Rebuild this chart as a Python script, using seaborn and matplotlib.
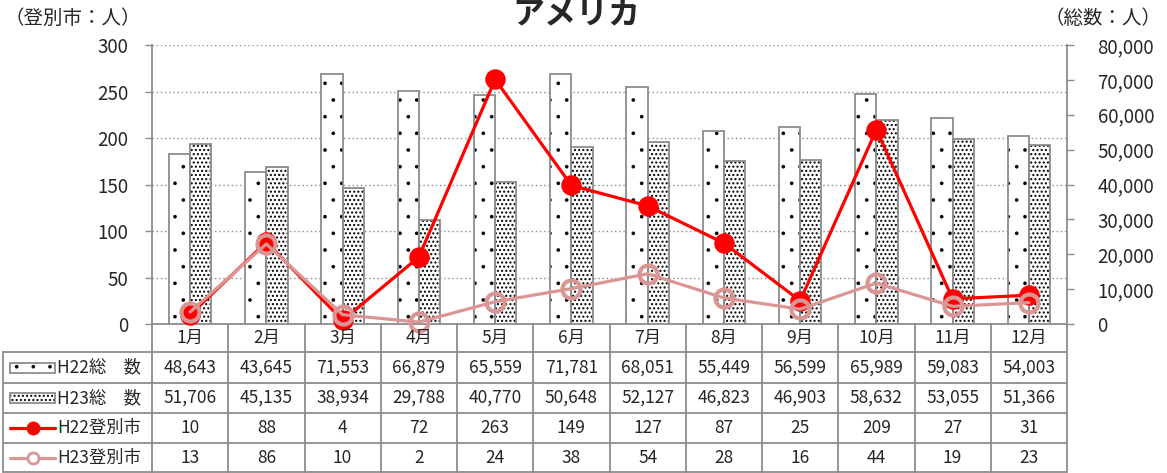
import numpy as np
import matplotlib.pyplot as plt
import seaborn as sns
import pandas as pd
from matplotlib.patches import Rectangle
from matplotlib.lines import Line2D
from matplotlib.ticker import FuncFormatter

# data
months = ['1月', '2月', '3月', '4月', '5月', '6月', '7月', '8月', '9月', '10月', '11月', '12月']
h22_total = [48643, 43645, 71553, 66879, 65559, 71781, 68051, 55449, 56599, 65989, 59083, 54003]
h23_total = [51706, 45135, 38934, 29788, 40770, 50648, 52127, 46823, 46903, 58632, 53055, 51366]
h22_city = [10, 88, 4, 72, 263, 149, 127, 87, 25, 209, 27, 31]
h23_city = [13, 86, 10, 2, 24, 38, 54, 28, 16, 44, 19, 23]
row_labels = ['H22総\u3000数', 'H23総\u3000数', 'H22登別市', 'H23登別市']

sns.set_style('white')
plt.rcParams['font.family'] = ['Noto Sans CJK JP', 'DejaVu Sans']
plt.rcParams['hatch.linewidth'] = 0.8

GRAY = '#8c8c8c'
RED = '#ff0000'
PINK = '#da9694'
HATCH_LW = {'.': 0.2, '....': 1.0}


def style_hatch(p, hatch):
    p.set_hatch(hatch)
    p.set_edgecolor('black')
    p.set_linewidth(0)
    if hasattr(p, 'set_hatch_linewidth'):
        p.set_hatch_linewidth(HATCH_LW[hatch])


W, H = 1167, 473
fig = plt.figure(figsize=(W / 100, H / 100), dpi=100)

# plot area in pixels
x0, x1 = 152, 1067
y_top, y_bot = 45, 324
ax = fig.add_axes([x0 / W, (H - y_bot) / H, (x1 - x0) / W, (y_bot - y_top) / H])

df = pd.DataFrame({
    'month': months * 2,
    'total': h22_total + h23_total,
    'year': ['H22'] * 12 + ['H23'] * 12,
})

# bars (right axis)
ax_bar = ax.twinx()
sns.barplot(data=df, x='month', y='total', hue='year', ax=ax_bar, width=0.56, gap=0,
            palette=['white', 'white'], legend=False, linewidth=0, edgecolor='black')
hatches = ['.', '....']
for cont, hatch in zip(ax_bar.containers, hatches):
    for b in cont:
        style_hatch(b, hatch)
        ax_bar.add_patch(Rectangle(b.get_xy(), b.get_width(), b.get_height(),
                                   fill=False, ec=GRAY, lw=1.3))
ax_bar.set_ylim(0, 80000)
ax_bar.set_yticks(np.arange(0, 80001, 10000))
ax_bar.yaxis.set_major_formatter(FuncFormatter(lambda v, p: f'{int(v):,}'))
ax_bar.tick_params(axis='y', right=True, direction='out', length=5, width=1, color=GRAY,
                   labelsize=13.5, pad=17)
ax_bar.set_ylabel('')
ax_bar.set_xlabel('')
for s in ax_bar.spines.values():
    s.set_visible(False)

# lines (left axis)
ax_line = ax.twinx()
sns.pointplot(x=months, y=h22_city, ax=ax_line, color=RED, markers='o', markersize=13,
              linewidth=2.3, errorbar=None, clip_on=False)
sns.pointplot(x=months, y=h23_city, ax=ax_line, color=PINK, markers='o', markersize=13,
              linewidth=2.3, errorbar=None, markerfacecolor='none', markeredgecolor=PINK,
              markeredgewidth=3, clip_on=False)
ax_line.set_ylim(0, 300)
ax_line.set_yticks([])
for s in ax_line.spines.values():
    s.set_visible(False)

# grid / left axis
ax.set_ylim(0, 300)
ax.set_yticks(np.arange(0, 301, 50))
ax.yaxis.grid(True, color=GRAY, linestyle=(0, (1, 2)), linewidth=1)
ax.tick_params(axis='y', left=True, direction='out', length=5, width=1, color=GRAY,
               labelsize=13.5, pad=12)
ax.spines['top'].set_visible(False)
for side in ['left', 'right', 'bottom']:
    ax.spines[side].set_color(GRAY)
    ax.spines[side].set_linewidth(1.3)
for a in (ax, ax_bar, ax_line):
    a.set_xticks([])
    a.set_xlim(-0.5, 11.5)

# axis captions and title
fig.text(5 / W, (H - 18) / H, '（登別市：人）', fontsize=14, ha='left', va='center')
fig.text(1162 / W, (H - 18) / H, '（総数：人）', fontsize=14, ha='right', va='center')
fig.text(576 / W, (H - 24) / H, 'アメリカ', fontsize=23, fontweight='bold', ha='center',
         va='baseline')

# data table below the chart
tax = fig.add_axes([0, 0, 1, 1])
tax.set_xlim(0, W)
tax.set_ylim(H, 0)
tax.axis('off')
tax.patch.set_visible(False)

col_w = (x1 - x0) / 12
col_edges = [x0 + i * col_w for i in range(13)]
row_edges = [324, 352, 383, 413, 443, 472]
lab_x0 = 3
for y in row_edges[1:]:
    tax.plot([lab_x0, x1], [y, y], color=GRAY, lw=1.3)
for x in col_edges:
    tax.plot([x, x], [row_edges[0], row_edges[-1]], color=GRAY, lw=1.3)
tax.plot([lab_x0, lab_x0], [row_edges[1], row_edges[-1]], color=GRAY, lw=1.3)

for i, m in enumerate(months):
    cx = col_edges[i] + col_w / 2
    tax.text(cx, (row_edges[0] + row_edges[1]) / 2, m, ha='center', va='center', fontsize=12.5)

rows = [h22_total, h23_total, h22_city, h23_city]
for r, vals in enumerate(rows):
    cy = (row_edges[r + 1] + row_edges[r + 2]) / 2
    for i, v in enumerate(vals):
        cx = col_edges[i] + col_w / 2
        tax.text(cx, cy, f'{v:,}', ha='center', va='center', fontsize=12.5)
    tax.text(57, cy, row_labels[r], ha='left', va='center', fontsize=12.5)

# legend keys in the label column
cy = [(row_edges[r + 1] + row_edges[r + 2]) / 2 for r in range(4)]
for r, hatch in enumerate(hatches):
    key = Rectangle((10, cy[r] - 5), 45, 10, facecolor='white')
    style_hatch(key, hatch)
    tax.add_patch(key)
    tax.add_patch(Rectangle((10, cy[r] - 5), 45, 10, fill=False, ec=GRAY, lw=1.3))
tax.add_line(Line2D([10, 55], [cy[2], cy[2]], color=RED, lw=2.3))
tax.add_line(Line2D([32.5], [cy[2]], marker='o', color=RED, markersize=9))
tax.add_line(Line2D([10, 55], [cy[3], cy[3]], color=PINK, lw=2.3))
tax.add_line(Line2D([32.5], [cy[3]], marker='o', markersize=8, markerfacecolor='white',
                    markeredgecolor=PINK, markeredgewidth=2))

fig.savefig('out.png', dpi=100)
